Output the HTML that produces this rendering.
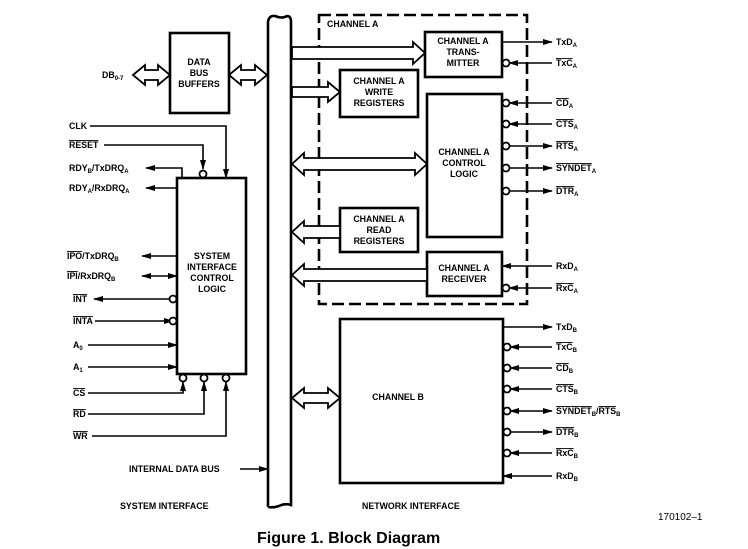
<!DOCTYPE html>
<html><head><meta charset="utf-8"><style>
body{margin:0;background:#fff}
svg{display:block}
text{font-family:"Liberation Sans",sans-serif;font-weight:bold;font-size:8.8px;fill:#000}
.s{font-size:6px}
</style></head><body>
<svg width="748" height="549" viewBox="0 0 748 549" xmlns="http://www.w3.org/2000/svg">
<defs>
<marker id="a" markerWidth="10" markerHeight="8" refX="9" refY="4" orient="auto" markerUnits="userSpaceOnUse"><path d="M0,1 L10,4 L0,7 Z" fill="#000"/></marker>
<marker id="b" markerWidth="10" markerHeight="8" refX="1" refY="4" orient="auto" markerUnits="userSpaceOnUse"><path d="M10,1 L0,4 L10,7 Z" fill="#000"/></marker>
</defs>
<g fill="none" stroke="#000" stroke-width="2.6">
<path d="M268,507 L268,22 Q269,15 275,16 Q282,19 287,16 Q291,16 291,22 L291,505 Q285,503 279,506 Q273,508 268,507" fill="#fff"/>
<rect x="319" y="15" width="208" height="289" stroke-dasharray="12,5"/>
<rect x="425" y="32" width="77" height="45"/>
<rect x="340" y="70" width="78" height="47"/>
<rect x="427" y="94" width="75" height="143"/>
<rect x="340" y="208" width="78" height="44"/>
<rect x="427" y="252" width="75" height="44"/>
<rect x="340" y="319" width="163" height="164"/>
<rect x="170" y="33" width="59" height="80"/>
<rect x="177" y="178" width="69" height="196"/>
</g>
<g fill="#fff" stroke="#000" stroke-width="1.8">
<polygon points="292,47 413,47 413,42 425,53 413,64 413,59 292,59"/>
<polygon points="292,87 328,87 328,82 340,92 328,102 328,97 292,97"/>
<polygon points="292,164 304,153 304,158 415,158 415,153 427,164 415,175 415,170 304,170 304,175"/>
<polygon points="292,232 304,221 304,226 340,226 340,238 304,238 304,243"/>
<polygon points="292,275 304,264 304,269 427,269 427,281 304,281 304,286"/>
<polygon points="292,398 304,388 304,393 328,393 328,388 340,398 328,408 328,403 304,403 304,408"/>
<polygon points="133,75 145,65 145,70 158,70 158,65 170,75 158,85 158,80 145,80 145,85"/>
<polygon points="229,75 241,65 241,70 255,70 255,65 267,75 255,85 255,80 241,80 241,85"/>
</g>
<g stroke="#000" stroke-width="1.6" fill="none">
<line x1="502" y1="42" x2="552" y2="42" marker-end="url(#a)"/>
<line x1="509" y1="63" x2="552" y2="63" marker-start="url(#b)"/>
<line x1="509" y1="103" x2="552" y2="103" marker-start="url(#b)"/>
<line x1="509" y1="124" x2="552" y2="124" marker-start="url(#b)"/>
<line x1="509" y1="146" x2="552" y2="146" marker-end="url(#a)"/>
<line x1="509" y1="168" x2="552" y2="168" marker-end="url(#a)"/>
<line x1="509" y1="191" x2="552" y2="191" marker-end="url(#a)"/>
<line x1="502" y1="266" x2="552" y2="266" marker-start="url(#b)"/>
<line x1="509" y1="288" x2="552" y2="288" marker-start="url(#b)"/>
<line x1="503" y1="327" x2="552" y2="327" marker-end="url(#a)"/>
<line x1="510" y1="347" x2="552" y2="347" marker-start="url(#b)"/>
<line x1="510" y1="368" x2="552" y2="368" marker-start="url(#b)"/>
<line x1="510" y1="389" x2="552" y2="389" marker-start="url(#b)"/>
<line x1="510" y1="411" x2="552" y2="411" marker-start="url(#b)" marker-end="url(#a)"/>
<line x1="510" y1="432" x2="552" y2="432" marker-end="url(#a)"/>
<line x1="510" y1="453" x2="552" y2="453" marker-start="url(#b)"/>
<line x1="503" y1="476" x2="552" y2="476" marker-start="url(#b)"/>
<polyline points="90,126 226,126 226,178" marker-end="url(#a)"/>
<polyline points="104,145 203,145 203,169" marker-end="url(#a)"/>
<polyline points="182,178 182,168 146,168" marker-end="url(#a)"/>
<line x1="177" y1="188" x2="146" y2="188" marker-end="url(#a)"/>
<line x1="177" y1="256" x2="142" y2="256" marker-end="url(#a)"/>
<line x1="142" y1="276" x2="177" y2="276" marker-start="url(#b)" marker-end="url(#a)"/>
<line x1="173" y1="299" x2="94" y2="299" marker-end="url(#a)"/>
<line x1="95" y1="321" x2="173" y2="321" marker-end="url(#a)"/>
<line x1="88" y1="345" x2="177" y2="345" marker-end="url(#a)"/>
<line x1="88" y1="367" x2="177" y2="367" marker-end="url(#a)"/>
<polyline points="88,393 183,393 183,382" marker-end="url(#a)"/>
<polyline points="88,414 204,414 204,382" marker-end="url(#a)"/>
<polyline points="92,436 226,436 226,382" marker-end="url(#a)"/>
<line x1="240" y1="469" x2="268" y2="469" marker-end="url(#a)"/>
</g>
<g fill="#fff" stroke="#000" stroke-width="1.8">
<circle cx="506" cy="63" r="3.5"/><circle cx="506" cy="103" r="3.5"/><circle cx="506" cy="124" r="3.5"/>
<circle cx="506" cy="146" r="3.5"/><circle cx="506" cy="168" r="3.5"/><circle cx="506" cy="191" r="3.5"/>
<circle cx="506" cy="288" r="3.5"/>
<circle cx="507" cy="347" r="3.5"/><circle cx="507" cy="368" r="3.5"/><circle cx="507" cy="389" r="3.5"/>
<circle cx="507" cy="411" r="3.5"/><circle cx="507" cy="432" r="3.5"/><circle cx="507" cy="453" r="3.5"/>
<circle cx="203" cy="174" r="3.5"/>
<circle cx="173" cy="299" r="3.5"/><circle cx="173" cy="321" r="3.5"/>
<circle cx="183" cy="378" r="3.5"/><circle cx="204" cy="378" r="3.5"/><circle cx="226" cy="378" r="3.5"/>
</g>
<g text-anchor="middle">
<text x="199" y="65">DATA</text><text x="199" y="76">BUS</text><text x="199" y="87">BUFFERS</text>
<text x="463" y="44">CHANNEL A</text><text x="463" y="55">TRANS-</text><text x="463" y="66">MITTER</text>
<text x="379" y="84">CHANNEL A</text><text x="379" y="95">WRITE</text><text x="379" y="106">REGISTERS</text>
<text x="464" y="155">CHANNEL A</text><text x="464" y="166">CONTROL</text><text x="464" y="177">LOGIC</text>
<text x="379" y="222">CHANNEL A</text><text x="379" y="233">READ</text><text x="379" y="244">REGISTERS</text>
<text x="464" y="271">CHANNEL A</text><text x="464" y="282">RECEIVER</text>
<text x="398" y="400">CHANNEL B</text>
<text x="212" y="259">SYSTEM</text><text x="212" y="270">INTERFACE</text><text x="212" y="281">CONTROL</text><text x="212" y="292">LOGIC</text>
</g>
<text x="327" y="27">CHANNEL A</text>
<text x="102" y="78">DB<tspan class="s" dy="2">0-7</tspan></text>
<text x="69" y="129">CLK</text>
<text x="69" y="148" text-decoration="overline">RESET</text>
<text x="69" y="171">RDY<tspan class="s" dy="2">B</tspan><tspan dy="-2">/TxDRQ</tspan><tspan class="s" dy="2">A</tspan></text>
<text x="69" y="191">RDY<tspan class="s" dy="2">A</tspan><tspan dy="-2">/RxDRQ</tspan><tspan class="s" dy="2">A</tspan></text>
<text x="67" y="259"><tspan text-decoration="overline">IPO</tspan>/TxDRQ<tspan class="s" dy="2">B</tspan></text>
<text x="67" y="279"><tspan text-decoration="overline">IPI</tspan>/RxDRQ<tspan class="s" dy="2">B</tspan></text>
<text x="73" y="302" text-decoration="overline">INT</text>
<text x="73" y="324" text-decoration="overline">INTA</text>
<text x="73" y="348">A<tspan class="s" dy="2">0</tspan></text>
<text x="73" y="370">A<tspan class="s" dy="2">1</tspan></text>
<text x="73" y="396" text-decoration="overline">CS</text>
<text x="73" y="417" text-decoration="overline">RD</text>
<text x="73" y="439" text-decoration="overline">WR</text>
<text x="129" y="472">INTERNAL DATA BUS</text>
<text x="120" y="509">SYSTEM INTERFACE</text>
<text x="362" y="509">NETWORK INTERFACE</text>
<text x="658" y="520" style="font-weight:normal;font-size:10px">170102–1</text>
<text x="257" y="543" style="font-size:16px">Figure 1. Block Diagram</text>
<text x="556" y="45">TxD<tspan class="s" dy="2">A</tspan></text>
<text x="556" y="66"><tspan text-decoration="overline">TxC</tspan><tspan class="s" dy="2">A</tspan></text>
<text x="556" y="106"><tspan text-decoration="overline">CD</tspan><tspan class="s" dy="2">A</tspan></text>
<text x="556" y="127"><tspan text-decoration="overline">CTS</tspan><tspan class="s" dy="2">A</tspan></text>
<text x="556" y="149"><tspan text-decoration="overline">RTS</tspan><tspan class="s" dy="2">A</tspan></text>
<text x="556" y="171"><tspan text-decoration="overline">SYNDET</tspan><tspan class="s" dy="2">A</tspan></text>
<text x="556" y="194"><tspan text-decoration="overline">DTR</tspan><tspan class="s" dy="2">A</tspan></text>
<text x="556" y="269">RxD<tspan class="s" dy="2">A</tspan></text>
<text x="556" y="291"><tspan text-decoration="overline">RxC</tspan><tspan class="s" dy="2">A</tspan></text>
<text x="556" y="330">TxD<tspan class="s" dy="2">B</tspan></text>
<text x="556" y="350"><tspan text-decoration="overline">TxC</tspan><tspan class="s" dy="2">B</tspan></text>
<text x="556" y="371"><tspan text-decoration="overline">CD</tspan><tspan class="s" dy="2">B</tspan></text>
<text x="556" y="392"><tspan text-decoration="overline">CTS</tspan><tspan class="s" dy="2">B</tspan></text>
<text x="556" y="414"><tspan text-decoration="overline">SYNDET</tspan><tspan class="s" dy="2">B</tspan><tspan dy="-2">/</tspan><tspan text-decoration="overline">RTS</tspan><tspan class="s" dy="2">B</tspan></text>
<text x="556" y="435"><tspan text-decoration="overline">DTR</tspan><tspan class="s" dy="2">B</tspan></text>
<text x="556" y="456"><tspan text-decoration="overline">RxC</tspan><tspan class="s" dy="2">B</tspan></text>
<text x="556" y="479">RxD<tspan class="s" dy="2">B</tspan></text>
</svg>
</body></html>
